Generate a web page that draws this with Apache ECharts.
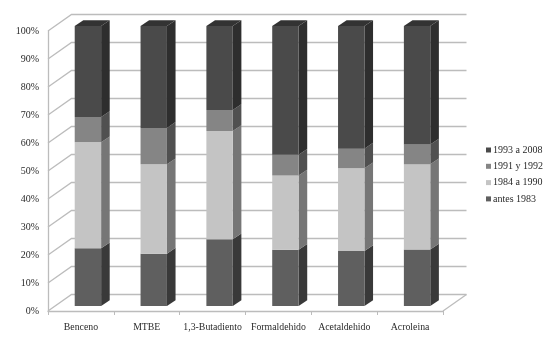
<!DOCTYPE html>
<html><head><meta charset="utf-8">
<style>html,body{margin:0;padding:0;background:#fff}#c{width:553px;height:343px;filter:blur(0.45px)}</style>
<script src="https://cdn.jsdelivr.net/npm/echarts@6/dist/echarts.min.js"></script>
</head><body><div id="c"></div>
<script>
const categories = ['Benceno','MTBE','1,3-Butadiento','Formaldehido','Acetaldehido','Acroleina'];
const antes1983 = [20.6,18.7,23.8,20.1,19.6,20.2];
const de1984a1990 = [37.9,31.9,38.7,26.5,29.6,30.4];
const de1991a1992 = [9.0,13.0,7.5,7.4,7.0,7.1];
const de1993a2008 = [32.5,36.4,30.0,46.0,43.8,42.3];
const gridTicks = [0,10,20,30,40,50,60,70,80,90,100];

const F = 'Liberation Serif';
const wallLine = '#bcbcbc';
const depth = {x:8.6,y:-5.8}, back = {x:23.5,y:-16.5}, lift = -5, shift = 7, barW = 26.4;

const chart = echarts.init(document.getElementById('c'));
const running = categories.map(()=>0);
function seg(name, vals, front, side, top){
  const data = vals.map((v,i)=>{const s=running[i]; running[i]+=v; return [i,s,running[i]];});
  return {
    name, type:'custom', z:3, coordinateSystem:'cartesian2d', itemStyle:{color:front},
    encode:{x:0,y:[1,2]}, data,
    renderItem(p,api){
      const a=api.coord([api.value(0),api.value(1)]), b=api.coord([api.value(0),api.value(2)]);
      const L=a[0]+shift-barW/2, R=L+barW, y0=a[1]+lift, y1=b[1]+lift;
      const ch=[
        {type:'polygon',shape:{points:[[R,y0],[R+depth.x,y0+depth.y],[R+depth.x,y1+depth.y],[R,y1]]},style:{fill:side}},
        {type:'rect',shape:{x:L,y:y1,width:barW,height:y0-y1},style:{fill:front}}
      ];
      if(top) ch.push({type:'polygon',shape:{points:[[L,y1],[L+depth.x,y1+depth.y],[R+depth.x,y1+depth.y],[R,y1]]},style:{fill:top}});
      return {type:'group',children:ch};
    }
  };
}
const walls = {
  type:'custom', z:1, silent:true, coordinateSystem:'cartesian2d', encode:{y:0},
  data:gridTicks.map(t=>[t]),
  renderItem(p,api){
    const c=api.coord([0,api.value(0)]), x0=p.coordSys.x, x1=x0+p.coordSys.width, y=c[1];
    const st={stroke:wallLine,lineWidth:1.3,fill:null};
    const ch=[
      {type:'polyline',shape:{points:[[x0,y],[x0+back.x,y+back.y],[x1+back.x,y+back.y]]},style:st}
    ];
    if(api.value(0)===0) ch.push({type:'line',shape:{x1:x1,y1:y,x2:x1+back.x,y2:y+back.y},style:st});
    return {type:'group',children:ch};
  }
};
chart.setOption({
  animation:false,
  backgroundColor:'#fff',
  grid:{left:48,right:110,top:31,bottom:32,containLabel:false},
  legend:{orient:'vertical',left:481,top:140,itemWidth:5,itemHeight:5,itemGap:6.3,icon:'rect',
    data:['1993 a 2008','1991 y 1992','1984 a 1990','antes 1983'],
    textStyle:{fontFamily:F,fontSize:10,color:'#2a2a2a',padding:[0,0,0,-3]}},
  xAxis:{type:'category',data:categories,boundaryGap:true,
    axisLine:{lineStyle:{color:wallLine,width:1.3}},
    axisTick:{show:true,length:4,alignWithLabel:false,lineStyle:{color:wallLine}},
    axisLabel:{interval:0,fontFamily:F,fontSize:9.8,color:'#2a2a2a',margin:11}},
  yAxis:{type:'value',min:0,max:100,interval:10,
    axisLine:{show:true,lineStyle:{color:wallLine,width:1.3}},axisTick:{show:false},splitLine:{show:false},
    axisLabel:{fontFamily:F,fontSize:10,color:'#2a2a2a',margin:9,padding:[5,0,0,0],formatter:'{value}%'}},
  series:[
    walls,
    seg('antes 1983',antes1983,'#5f5f5f','#393939'),
    seg('1984 a 1990',de1984a1990,'#c4c4c4','#767676'),
    seg('1991 y 1992',de1991a1992,'#858585','#505050'),
    seg('1993 a 2008',de1993a2008,'#4a4a4a','#2e2e2e','#333333')
  ]
});
</script></body></html>
